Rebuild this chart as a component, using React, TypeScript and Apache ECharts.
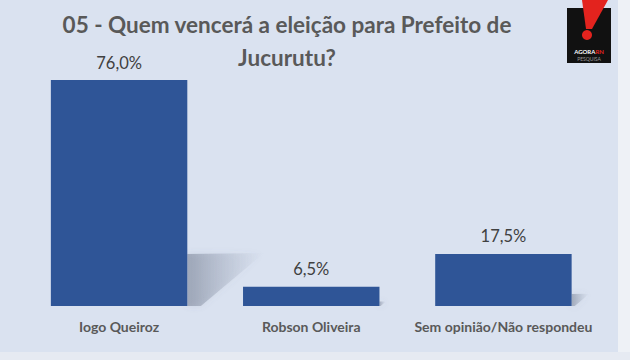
import React, { useEffect, useRef } from "react";
import * as echarts from "echarts";

const titleLines = ["05 - Quem vencerá a eleição para Prefeito de", "Jucurutu?"];
const categories = ["Iogo Queiroz", "Robson Oliveira", "Sem opinião/Não respondeu"];
const values = [76.0, 6.5, 17.5];

const fmt = (v: number) => v.toFixed(1).replace(".", ",") + "%";

export default function App() {
  const ref = useRef<HTMLDivElement>(null);
  useEffect(() => {
    if (!ref.current) return;
    const chart = echarts.init(ref.current, null, { renderer: "svg" });
    const font = "Lato, 'Open Sans', sans-serif";
    const barRatio = 0.71;
    chart.setOption({
      animation: false,
      backgroundColor: "#DAE2F0",
      textStyle: { fontFamily: font },
      grid: { left: 23, right: 30.5, top: 80, bottom: 54 },
      xAxis: {
        type: "category",
        data: categories,
        axisLine: { show: false },
        axisTick: { show: false },
        axisLabel: {
          interval: 0,
          color: "#595959",
          fontWeight: "bold",
          fontSize: 14,
          margin: 13,
          fontFamily: font,
        },
      },
      yAxis: { type: "value", min: 0, max: "dataMax", show: false, splitLine: { show: false } },
      graphic: [
        { type: "rect", shape: { x: 618, y: 0, width: 12, height: 360 }, style: { fill: "#EEF1F6" }, z: -1 },
        { type: "rect", shape: { x: 0, y: 352, width: 630, height: 8 }, style: { fill: "#E6EAF2" }, z: -1 },
        {
          type: "text",
          x: 287,
          y: 8,
          style: {
            text: titleLines.join("\n"),
            fill: "#595959",
            font: `bold 22.5px ${font}`,
            align: "center",
            lineHeight: 33,
          },
        },
        {
          type: "group",
          children: [
            { type: "rect", shape: { x: 567, y: 8, width: 44, height: 55 }, style: { fill: "#111111" } },
            {
              type: "polygon",
              shape: { points: [[582, 0], [608, 0], [592, 29], [586, 29]] },
              style: { fill: "#E3231E" },
            },
            { type: "circle", shape: { cx: 587, cy: 35, r: 5 }, style: { fill: "#E3231E" } },
            {
              type: "text",
              x: 589,
              y: 48,
              style: {
                text: "{a|AGORA}{b|RN}",
                align: "center",
                rich: {
                  a: { fill: "#FFFFFF", font: `bold 6px ${font}` },
                  b: { fill: "#E3231E", font: `bold 6px ${font}` },
                },
              },
            },
            {
              type: "text",
              x: 589,
              y: 56,
              style: { text: "PESQUISA", fill: "#9A9A9A", font: `5px ${font}`, align: "center" },
            },
          ],
        },
      ],
      series: [
        {
          type: "custom",
          z: 1,
          silent: true,
          data: values.map((v, i) => [i, v]),
          renderItem: (params: any, api: any) => {
            const idx = api.value(0);
            const val = api.value(1);
            const top = api.coord([idx, val]);
            const base = api.coord([idx, 0]);
            const band = api.size([1, 0])[0];
            const r = base[0] + (band * barRatio) / 2;
            const h = base[1] - top[1];
            const b = base[1];
            return {
              type: "polygon",
              shape: {
                points: [
                  [r, b - 0.23 * h],
                  [r + 0.34 * h, b - 0.235 * h],
                  [r + 0.06 * h, b],
                  [r, b],
                ],
              },
              style: {
                fill: new echarts.graphic.LinearGradient(0, 0, 1, 0, [
                  { offset: 0, color: "rgba(110,120,140,0.5)" },
                  { offset: 1, color: "rgba(150,160,180,0)" },
                ]),
                shadowBlur: 6,
                shadowColor: "rgba(110,120,140,0.3)",
              },
            };
          },
        },
        {
          type: "bar",
          z: 2,
          data: values,
          barWidth: `${barRatio * 100}%`,
          itemStyle: { color: "#2F5597" },
          label: {
            show: true,
            position: "top",
            distance: 9,
            color: "#404040",
            fontSize: 16.5,
            fontFamily: font,
            formatter: (p: any) => fmt(p.value),
          },
        },
      ],
    });
    return () => chart.dispose();
  }, []);
  return <div ref={ref} style={{ position: "fixed", left: 0, top: 0, width: 630, height: 360 }} />;
}
